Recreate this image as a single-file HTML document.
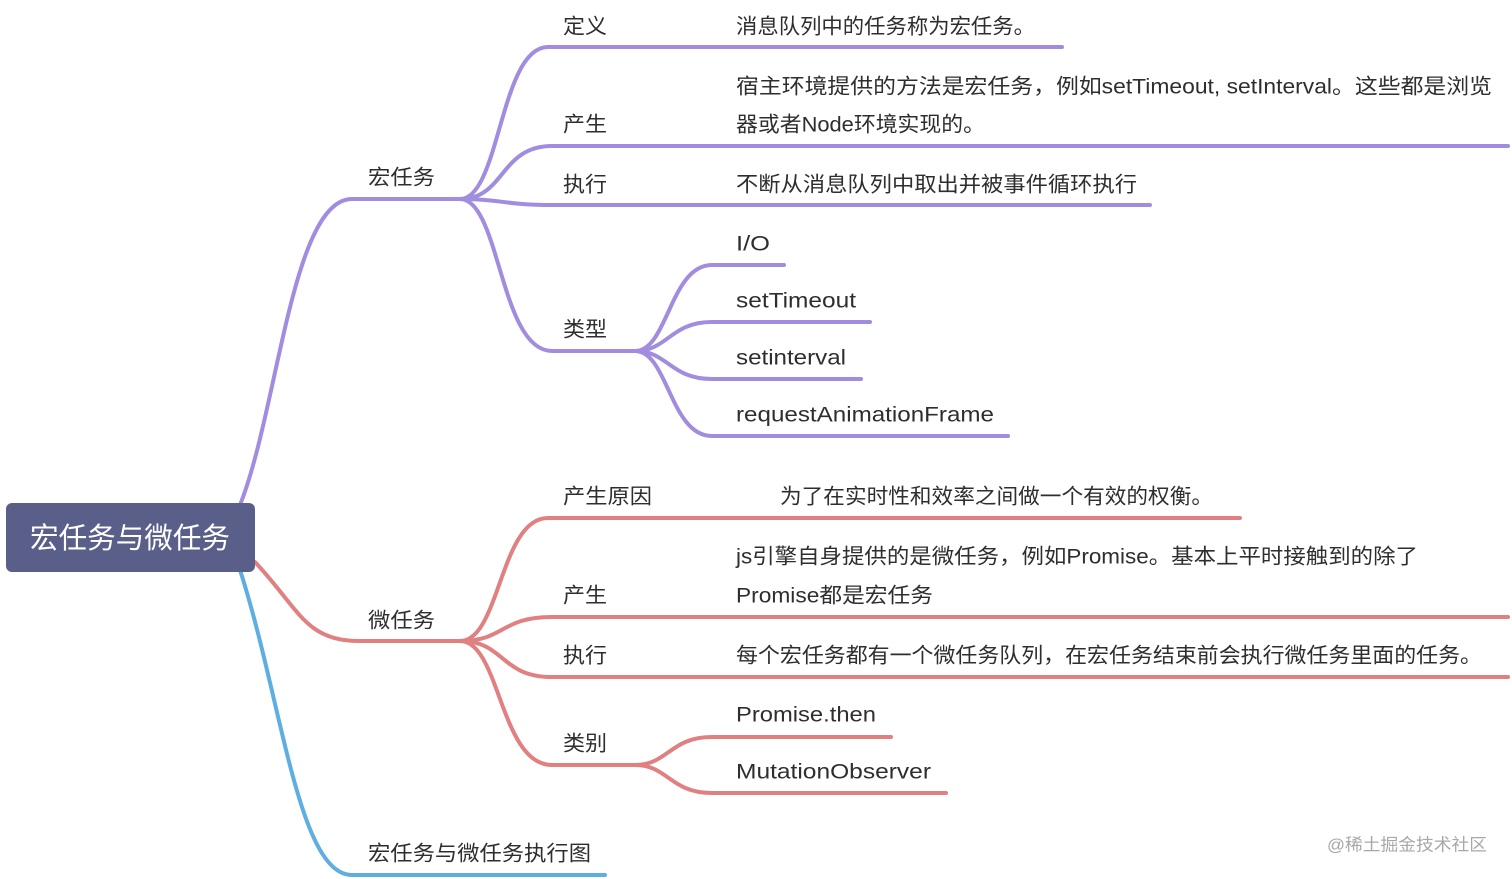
<!DOCTYPE html>
<html>
<head>
<meta charset="utf-8">
<style>
  html,body{margin:0;padding:0;background:#fff;}
  svg{display:block;}
  text{font-family:"Liberation Sans","Noto Sans CJK SC",sans-serif;fill:#2e2e2e;font-size:21px;}
</style>
</head>
<body>
<svg width="1512" height="879" viewBox="0 0 1512 879" xmlns="http://www.w3.org/2000/svg">
  <g fill="none" stroke-linecap="round" stroke-linejoin="round">
    <!-- purple -->
    <g stroke="#a18ce0" stroke-width="4">
      <path d="M240,505 C278,410 292,199 352,199 L460,199"/>
      <path d="M460,199 C500,199 500,47 548,47 L1062,47"/>
      <path d="M460,199 C505,199 500,146 552,146 L1508,146"/>
      <path d="M460,199 C500,199 505,205 552,205 L1150,205"/>
      <path d="M460,199 C500,199 500,351 552,351 L635,351"/>
      <path d="M635,351 C668,351 670,265 712,265 L784,265"/>
      <path d="M635,351 C668,351 670,322 712,322 L870,322"/>
      <path d="M635,351 C668,351 670,379 712,379 L861,379"/>
      <path d="M635,351 C668,351 670,436 712,436 L1008,436"/>
    </g>
    <!-- red -->
    <g stroke="#e08080" stroke-width="4">
      <path d="M255,562 C300,610 305,641 360,641 L460,641"/>
      <path d="M460,641 C500,641 500,518 548,518 L1240,518"/>
      <path d="M460,641 C505,641 500,617 552,617 L1508,617"/>
      <path d="M460,641 C505,641 500,677 552,677 L1508,677"/>
      <path d="M460,641 C500,641 500,765 552,765 L635,765"/>
      <path d="M635,765 C668,765 670,737 712,737 L891,737"/>
      <path d="M635,765 C668,765 670,793 712,793 L946,793"/>
    </g>
    <!-- blue -->
    <g stroke="#5eaee2" stroke-width="4">
      <path d="M240,570 C282,700 298,875 352,875 L605,875"/>
    </g>
  </g>

  <!-- root -->
  <rect x="6" y="503" width="249" height="69" rx="6" ry="6" fill="#5a5f89"/>
  <text x="30" y="539" dominant-baseline="central" textLength="200" lengthAdjust="spacingAndGlyphs" style="fill:#ffffff;font-size:29px;">宏任务与微任务</text>

  <!-- macro -->
  <text x="368" y="178" dominant-baseline="central" textLength="67" lengthAdjust="spacingAndGlyphs">宏任务</text>
  <text x="563" y="27" dominant-baseline="central" textLength="44" lengthAdjust="spacingAndGlyphs">定义</text>
  <text x="736" y="27" dominant-baseline="central" textLength="299" lengthAdjust="spacingAndGlyphs">消息队列中的任务称为宏任务。</text>
  <text x="563" y="125" dominant-baseline="central" textLength="44" lengthAdjust="spacingAndGlyphs">产生</text>
  <text x="736" y="87" dominant-baseline="central" textLength="756" lengthAdjust="spacingAndGlyphs">宿主环境提供的方法是宏任务，例如setTimeout, setInterval。这些都是浏览</text>
  <text x="736" y="125" dominant-baseline="central" textLength="249" lengthAdjust="spacingAndGlyphs">器或者Node环境实现的。</text>
  <text x="563" y="185" dominant-baseline="central" textLength="44" lengthAdjust="spacingAndGlyphs">执行</text>
  <text x="736" y="185" dominant-baseline="central" textLength="401" lengthAdjust="spacingAndGlyphs">不断从消息队列中取出并被事件循环执行</text>
  <text x="563" y="330" dominant-baseline="central" textLength="44" lengthAdjust="spacingAndGlyphs">类型</text>
  <text x="736" y="244" dominant-baseline="central" textLength="34" lengthAdjust="spacingAndGlyphs">I/O</text>
  <text x="736" y="301" dominant-baseline="central" textLength="120" lengthAdjust="spacingAndGlyphs">setTimeout</text>
  <text x="736" y="358" dominant-baseline="central" textLength="110" lengthAdjust="spacingAndGlyphs">setinterval</text>
  <text x="736" y="415" dominant-baseline="central" textLength="258" lengthAdjust="spacingAndGlyphs">requestAnimationFrame</text>

  <!-- micro -->
  <text x="368" y="621" dominant-baseline="central" textLength="67" lengthAdjust="spacingAndGlyphs">微任务</text>
  <text x="563" y="497" dominant-baseline="central" textLength="89" lengthAdjust="spacingAndGlyphs">产生原因</text>
  <text x="780" y="497" dominant-baseline="central" textLength="433" lengthAdjust="spacingAndGlyphs">为了在实时性和效率之间做一个有效的权衡。</text>
  <text x="563" y="596" dominant-baseline="central" textLength="44" lengthAdjust="spacingAndGlyphs">产生</text>
  <text x="736" y="557" dominant-baseline="central" textLength="682" lengthAdjust="spacingAndGlyphs">js引擎自身提供的是微任务，例如Promise。基本上平时接触到的除了</text>
  <text x="736" y="596" dominant-baseline="central" textLength="197" lengthAdjust="spacingAndGlyphs">Promise都是宏任务</text>
  <text x="563" y="656" dominant-baseline="central" textLength="44" lengthAdjust="spacingAndGlyphs">执行</text>
  <text x="736" y="656" dominant-baseline="central" textLength="746" lengthAdjust="spacingAndGlyphs">每个宏任务都有一个微任务队列，在宏任务结束前会执行微任务里面的任务。</text>
  <text x="563" y="744" dominant-baseline="central" textLength="44" lengthAdjust="spacingAndGlyphs">类别</text>
  <text x="736" y="715" dominant-baseline="central" textLength="140" lengthAdjust="spacingAndGlyphs">Promise.then</text>
  <text x="736" y="772" dominant-baseline="central" textLength="195" lengthAdjust="spacingAndGlyphs">MutationObserver</text>

  <!-- blue -->
  <text x="368" y="854" dominant-baseline="central" textLength="223" lengthAdjust="spacingAndGlyphs">宏任务与微任务执行图</text>

  <!-- watermark -->
  <text x="1327" y="845" dominant-baseline="central" textLength="160" lengthAdjust="spacingAndGlyphs" style="fill:#a8a8a8;font-size:17px;">@稀土掘金技术社区</text>
</svg>
</body>
</html>
